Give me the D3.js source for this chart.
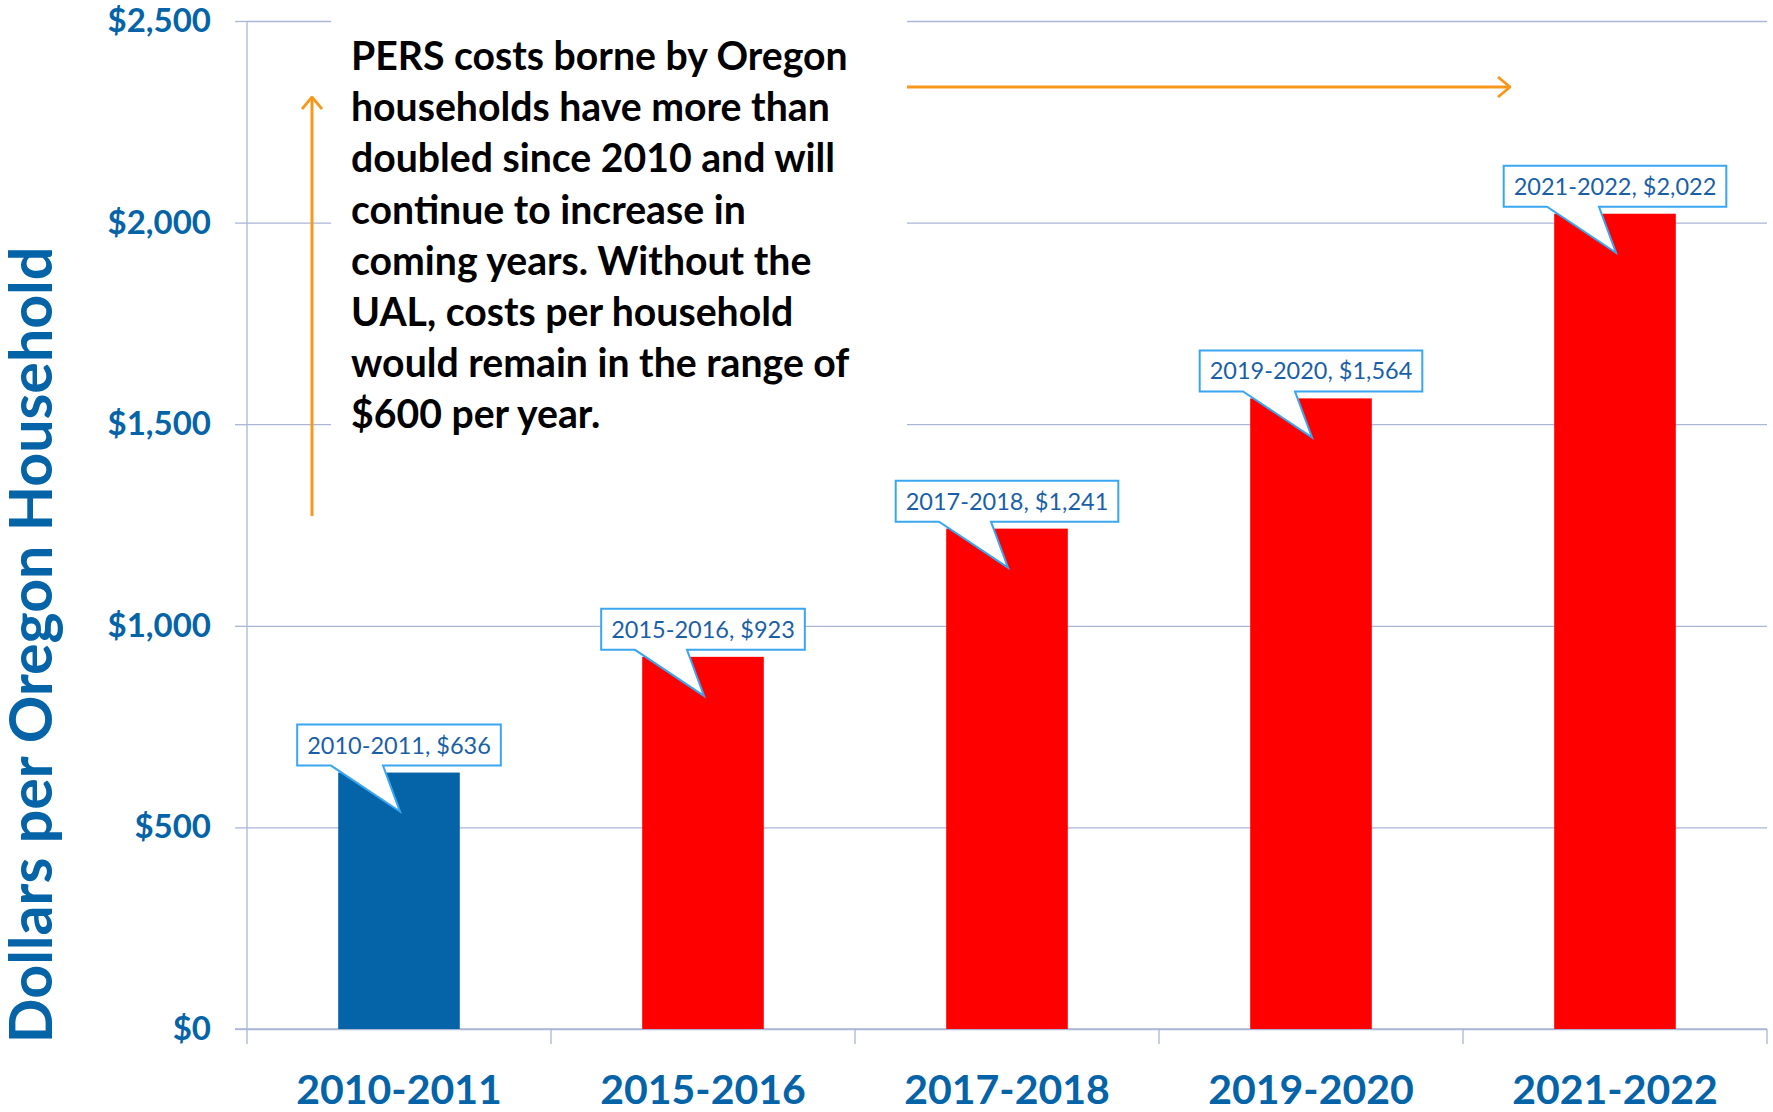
<!DOCTYPE html>
<html>
<head>
<meta charset="utf-8">
<script src="https://cdn.jsdelivr.net/npm/d3@7"></script>
<style>
  body { margin: 0; background: #fff; }
  text { font-family: Lato, "Open Sans", sans-serif; }
</style>
</head>
<body>
<svg id="chart" width="1773" height="1112"></svg>
<script>
// values
var categories = ["2010-2011", "2015-2016", "2017-2018", "2019-2020", "2021-2022"];
var costs = [636, 923, 1241, 1564, 2022];
var yTicks = [0, 500, 1000, 1500, 2000, 2500];
var noteLines = [
  "PERS costs borne by Oregon",
  "households have more than",
  "doubled since 2010 and will",
  "continue to increase in",
  "coming years. Without the",
  "UAL, costs per household",
  "would remain in the range of",
  "$600 per year."
];

var blue = "#0563a8";
var red = "#ff0000";
var gridColor = "#aab6d6";
var orange = "#f7981d";

var svg = d3.select("#chart");
var plotLeft = 247, plotRight = 1767, plotTop = 21, plotBottom = 1029;

var x = d3.scaleBand()
  .domain(categories)
  .range([plotLeft, plotRight])
  .paddingInner(0.6)
  .paddingOuter(0.3);

var y = d3.scaleLinear()
  .domain([0, 2500])
  .range([plotBottom, plotTop]);

var money = function (d) { return "$" + d3.format(",")(d); };

// gridlines
svg.append("g")
  .attr("transform", "translate(" + plotLeft + ",0)")
  .call(d3.axisLeft(y).tickValues(yTicks).tickSize(-(plotRight - plotLeft)).tickFormat(""))
  .call(function (g) {
    g.select(".domain").remove();
    g.selectAll("line").attr("stroke", gridColor).attr("stroke-width", 1.3);
  });

// y axis with labels
svg.append("g")
  .attr("transform", "translate(" + plotLeft + ",0)")
  .call(d3.axisLeft(y).tickValues(yTicks).tickSize(12).tickPadding(24).tickFormat(money))
  .call(function (g) {
    g.select(".domain").attr("stroke", gridColor).attr("stroke-width", 1.3)
      .attr("d", "M0," + plotTop + "V" + plotBottom);
    g.selectAll("line").attr("stroke", gridColor).attr("stroke-width", 1.3);
    g.selectAll("text")
      .attr("fill", blue)
      .style("font-size", "33px")
      .style("font-weight", "bold");
  });

// white area behind the note hides the gridlines
svg.append("rect")
  .attr("x", 331).attr("y", 0)
  .attr("width", 907 - 331).attr("height", 455)
  .attr("fill", "#fff");

// x axis: line and category boundary ticks
var step = x.step();
var bounds = categories.map(function (c) { return x(c) - step * 0.3; }).concat([plotRight]);
var xa = svg.append("g");
xa.append("line")
  .attr("x1", plotLeft - 12).attr("x2", plotRight)
  .attr("y1", plotBottom).attr("y2", plotBottom)
  .attr("stroke", gridColor).attr("stroke-width", 1.5);
xa.selectAll(".bt")
  .data(bounds)
  .enter()
  .append("line")
  .attr("x1", function (d) { return d; })
  .attr("x2", function (d) { return d; })
  .attr("y1", plotBottom).attr("y2", plotBottom + 15)
  .attr("stroke", gridColor).attr("stroke-width", 1.3);
xa.selectAll(".cl")
  .data(categories)
  .enter()
  .append("text")
  .attr("x", function (d) { return x(d) + x.bandwidth() / 2; })
  .attr("y", 1104)
  .attr("text-anchor", "middle")
  .attr("fill", blue)
  .style("font-size", "41px")
  .style("font-weight", "bold")
  .text(function (d) { return d; });

// bars
svg.append("g")
  .selectAll("rect")
  .data(costs)
  .enter()
  .append("rect")
  .attr("x", function (d, i) { return x(categories[i]); })
  .attr("y", function (d) { return y(d); })
  .attr("width", x.bandwidth())
  .attr("height", function (d) { return y(0) - y(d); })
  .attr("fill", function (d, i) { return i === 0 ? blue : red; });

// callout labels
var callouts = svg.append("g")
  .selectAll("g")
  .data(costs)
  .enter()
  .append("g");

callouts.each(function (d, i) {
  var g = d3.select(this);
  var cx = x(categories[i]) + x.bandwidth() / 2;
  var barTop = y(d);
  var boxBottom = barTop - 7;
  var boxTop = boxBottom - 41;
  var label = g.append("text")
    .attr("x", cx)
    .attr("y", boxBottom - 12)
    .attr("text-anchor", "middle")
    .attr("fill", "#1a5fa6")
    .style("font-size", "23.5px")
    .text(categories[i] + ", " + money(d));
  var w = label.node().getComputedTextLength() + 20;
  var x0 = cx - w / 2, x1 = cx + w / 2;
  var path = "M" + x0 + "," + boxTop +
    "H" + x1 + "V" + boxBottom +
    "H" + (cx - 16) +
    "L" + (cx + 1) + "," + (barTop + 39) +
    "L" + (cx - 68) + "," + boxBottom +
    "H" + x0 + "Z";
  g.insert("path", "text")
    .attr("d", path)
    .attr("fill", "#fff")
    .attr("stroke", "#3aa6f2")
    .attr("stroke-width", 2);
});

// note text
svg.append("text")
  .attr("fill", "#000")
  .style("font-size", "39.2px")
  .style("font-weight", "bold")
  .selectAll("tspan")
  .data(noteLines)
  .enter()
  .append("tspan")
  .attr("x", 351)
  .attr("y", function (d, i) { return 70 + i * 51.2; })
  .text(function (d) { return d; });

// orange arrows
var defs = svg.append("defs");
defs.append("marker")
  .attr("id", "chev")
  .attr("markerUnits", "userSpaceOnUse")
  .attr("viewBox", "0 0 14 22")
  .attr("refX", 13).attr("refY", 11)
  .attr("markerWidth", 14).attr("markerHeight", 22)
  .attr("orient", "auto")
  .append("path")
  .attr("d", "M1,1 L13,11 L1,21")
  .attr("fill", "none")
  .attr("stroke", orange)
  .attr("stroke-width", 2.8);

svg.append("line")
  .attr("x1", 312).attr("y1", 516)
  .attr("x2", 312).attr("y2", 97)
  .attr("stroke", orange).attr("stroke-width", 3)
  .attr("marker-end", "url(#chev)");

svg.append("line")
  .attr("x1", 907).attr("y1", 87)
  .attr("x2", 1510).attr("y2", 87)
  .attr("stroke", orange).attr("stroke-width", 3.2)
  .attr("marker-end", "url(#chev)");

// y axis title
svg.append("text")
  .attr("transform", "translate(52,645) rotate(-90)")
  .attr("text-anchor", "middle")
  .attr("fill", blue)
  .style("font-size", "59px")
  .style("font-weight", "bold")
  .text("Dollars per Oregon Household");
</script>
</body>
</html>
